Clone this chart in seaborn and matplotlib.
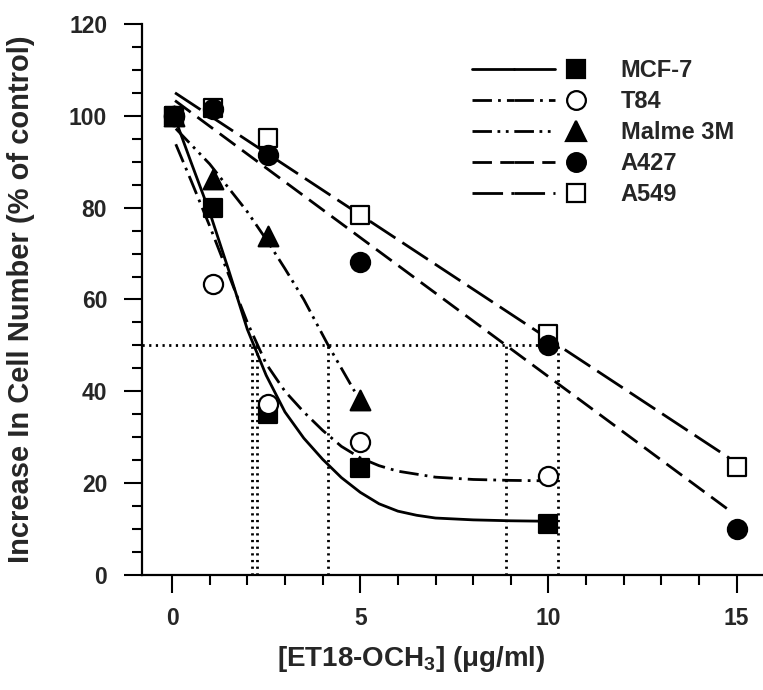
import matplotlib
matplotlib.use("Agg")
import matplotlib.pyplot as plt
import seaborn as sns
from matplotlib.lines import Line2D
from matplotlib.legend_handler import HandlerTuple
from matplotlib.ticker import MultipleLocator

# ---------------- data ----------------
series_names = ["MCF-7", "T84", "Malme 3M", "A427", "A549"]
dose_x = [0.05, 1.1, 2.55, 5.0, 10.0, 15.0]

mcf7_y = [100.0, 80.0, 35.1, 23.2, 11.1]
t84_y = [100.0, 63.4, 37.2, 29.0, 21.6]
malme_y = [100.0, 86.2, 73.9, 38.0]
a427_y = [100.0, 101.5, 91.5, 68.1, 50.0, 10.1]
a549_y = [100.0, 101.8, 95.2, 78.3, 52.5, 23.5]

# fitted curves, points
mcf7_fit_x = [0.1, 0.5, 1.0, 1.5, 2.0, 2.5, 3.0, 3.5, 4.0, 4.5, 5.0, 5.5, 6.0, 6.5, 7.0, 8.0, 9.0, 10.0]
mcf7_fit_y = [99.0, 90.0, 79.0, 66.5, 53.5, 43.5, 35.5, 29.8, 25.2, 21.2, 18.0, 15.5, 13.9, 13.0, 12.4, 12.0, 11.8, 11.7]
t84_fit_x = [0.1, 0.5, 1.0, 1.5, 2.0, 2.5, 3.0, 3.5, 4.0, 4.5, 5.0, 5.5, 6.0, 7.0, 8.0, 9.0, 10.0]
t84_fit_y = [93.8, 86.0, 76.0, 65.5, 55.0, 46.0, 40.0, 35.5, 31.5, 28.0, 25.5, 23.8, 22.6, 21.3, 20.8, 20.6, 20.5]
malme_fit_x = [0.1, 1.0, 2.0, 2.55, 3.0, 3.5, 4.15, 4.85]
malme_fit_y = [97.2, 89.5, 79.1, 72.5, 66.7, 60.0, 50.0, 40.0]
a427_fit_x = [0.08, 14.9]
a427_fit_y = [103.3, 13.5]
a549_fit_x = [0.08, 14.8]
a549_fit_y = [105.0, 25.5]

ic50_x = [2.12, 2.26, 4.15, 8.87, 10.25]
ic50_level = 50

x_ticks = [0, 5, 10, 15]
y_ticks = [0, 20, 40, 60, 80, 100, 120]

# ---------------- styles ----------------
sns.set_style("ticks")
plt.rcParams["font.family"] = ["Liberation Sans", "DejaVu Sans"]
plt.rcParams["font.weight"] = "bold"
plt.rcParams["mathtext.fontset"] = "custom"
plt.rcParams["mathtext.rm"] = "Liberation Sans:bold"
plt.rcParams["mathtext.it"] = "Liberation Sans:bold"
plt.rcParams["mathtext.bf"] = "Liberation Sans:bold"

LW = 2.0
styles = {
    "MCF-7": dict(ls="-", marker="s", fc="black", s=170, ms=13),
    "T84": dict(ls=(0, (7, 2.2, 1, 2.2)), marker="o", fc="white", s=190, ms=13.5),
    "Malme 3M": dict(ls=(0, (7, 2, 1, 2, 1, 2)), marker="^", fc="black", s=200, ms=14),
    "A427": dict(ls=(0, (7, 3)), marker="o", fc="black", s=190, ms=13.5),
    "A549": dict(ls=(0, (11, 3)), marker="s", fc="white", s=170, ms=13),
}

fits = {
    "MCF-7": (mcf7_fit_x, mcf7_fit_y),
    "T84": (t84_fit_x, t84_fit_y),
    "Malme 3M": (malme_fit_x, malme_fit_y),
    "A427": (a427_fit_x, a427_fit_y),
    "A549": (a549_fit_x, a549_fit_y),
}
points = {
    "MCF-7": mcf7_y,
    "T84": t84_y,
    "Malme 3M": malme_y,
    "A427": a427_y,
    "A549": a549_y,
}

fig = plt.figure(figsize=(7.63, 6.90), dpi=100)
ax = fig.add_axes([0.186, 0.1667, 0.814, 0.7986])

XMIN, XMAX = -0.8, 15.7

# reference dotted lines
ax.hlines(ic50_level, XMIN, max(ic50_x), colors="black", lw=2.0,
          linestyles=(0, (0.8, 1.6)), zorder=1)
ax.vlines(ic50_x, 0, ic50_level, colors="black", lw=2.0,
          linestyles=(0, (0.8, 1.6)), zorder=1)

# fitted lines
for name in series_names:
    fx, fy = fits[name]
    sns.lineplot(x=fx, y=fy, ax=ax, color="black", lw=LW,
                 linestyle=styles[name]["ls"], sort=False, zorder=2)

# data markers (drawing order chosen to match overlaps)
for name in ["A549", "MCF-7", "Malme 3M", "T84", "A427"]:
    yv = points[name]
    st = styles[name]
    sns.scatterplot(x=dose_x[:len(yv)], y=yv, ax=ax, marker=st["marker"],
                    s=st["s"], color=st["fc"], edgecolor="black",
                    linewidth=1.6, zorder=3, clip_on=False)

ax.set_xlim(XMIN, XMAX)
ax.set_ylim(0, 120)
ax.set_xticks(x_ticks)
ax.set_yticks(y_ticks)
ax.xaxis.set_minor_locator(MultipleLocator(1))
ax.yaxis.set_minor_locator(MultipleLocator(5))
ax.tick_params(axis="both", which="major", direction="out", length=13,
               width=1.5, labelsize=16.5, color="black")
ax.tick_params(axis="x", which="major", pad=10)
ax.tick_params(axis="y", which="major", pad=12)
ax.tick_params(axis="both", which="minor", direction="out", length=7,
               width=1.5, color="black")
for lab in ax.get_xticklabels() + ax.get_yticklabels():
    lab.set_fontweight("bold")

sns.despine(ax=ax)
for sp in ["left", "bottom"]:
    ax.spines[sp].set_linewidth(1.6)
    ax.spines[sp].set_color("black")

ax.set_ylabel("Increase In Cell Number (% of control)", fontsize=21,
              fontweight="bold")
ax.set_xlabel("[ET18-OCH$_3$] (\u03bcg/ml)", fontsize=20, fontweight="bold")
ax.yaxis.set_label_coords(-0.172, 0.5)
ax.xaxis.set_label_coords(0.434, -0.125)

# legend: long line segment followed by the marker
handles = []
for name in series_names:
    st = styles[name]
    seg = Line2D([], [], color="black", lw=LW, ls=st["ls"])
    mk = Line2D([], [], ls="none", marker=st["marker"], ms=st["ms"],
                mfc=st["fc"], mec="black", mew=1.6)
    handles.append((seg, seg, mk))
leg = ax.legend(handles, series_names,
                handler_map={tuple: HandlerTuple(ndivide=3, pad=0)},
                frameon=False, loc="upper left",
                bbox_to_anchor=(472 / 763, 1 - 59 / 690),
                bbox_transform=fig.transFigure,
                borderpad=0, borderaxespad=0,
                handlelength=5.3, handletextpad=1.0, labelspacing=0.34,
                prop={"size": 17, "weight": "bold"})

fig.savefig("out.png", dpi=100)
